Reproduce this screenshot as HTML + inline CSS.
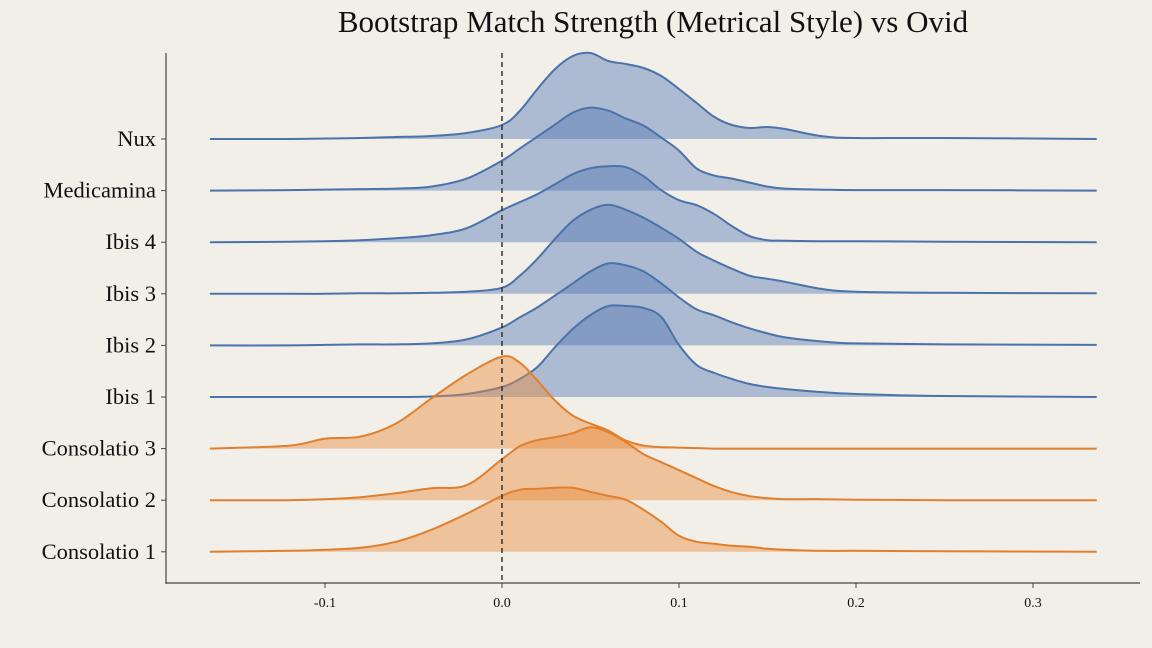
<!DOCTYPE html>
<html><head><meta charset="utf-8">
<style>
html,body{margin:0;padding:0;background:#f2efe8;}
svg{display:block;}
text{font-family:"Liberation Serif",serif;fill:#111;}
</style></head>
<body>
<svg id="chart" width="1152" height="648" viewBox="0 0 1152 648" xmlns="http://www.w3.org/2000/svg">
<rect width="1152" height="648" fill="#f2efe8"/>
<text x="653" y="32" text-anchor="middle" font-size="31">Bootstrap Match Strength (Metrical Style) vs Ovid</text>
<g id="ridges"></g>
<g id="axes"></g>
</svg>
<script>
const categories = ["Nux","Medicamina","Ibis 4","Ibis 3","Ibis 2","Ibis 1","Consolatio 3","Consolatio 2","Consolatio 1"];
const groups = ["ibis","ibis","ibis","ibis","ibis","ibis","consolatio","consolatio","consolatio"];
const gridX = [-0.165,-0.12,-0.10,-0.08,-0.06,-0.04,-0.02,0.00,0.01,0.02,0.03,0.04,0.05,0.06,0.07,0.08,0.09,0.10,0.11,0.12,0.13,0.14,0.15,0.16,0.18,0.20,0.25,0.336];
const densNux        = [0,0,0.5,1,2,3,6,14,28,50,70,83,86,78,75,71,63,50,36,22,14,11,12,10,3,1,1,0];
const densMedicamina = [0,0.5,1,1.5,2,4,12,30,42,54,66,78,83,80,72,65,53,40,22,15,12,8,4,2,1,0.5,0.5,0];
const densIbis4      = [0,0.5,1,2,4,7,14,32,40,48,58,68,74,76,75,66,52,42,37,28,16,6,2,1.5,1,1,0.5,0];
const densIbis3      = [0,0,0,0.5,0.5,1,2,6,18,35,55,73,84,89,84,76,66,55,42,33,25,18,15,12,5,2,1,0.5];
const densIbis2      = [0,0,0.5,1,1,2,6,18,28,38,50,62,74,82,80,74,62,48,36,30,23,17,12,8,4,2,1,0.5];
const densIbis1      = [0,0,0,0,0,0.5,3,10,18,30,50,68,82,91,91,89,80,52,32,24,18,13,10,8,5,3,1,0];
const densCons3      = [0,3,10,12,25,50,74,92,86,68,48,33,25,18,8,3,1.5,1,0.5,0,0,0,0,0,0,0,0,0];
const densCons2      = [0,0,1,3,7,12,15,41,54,60,63,67,73,68,58,46,38,30,22,14,8,4,2,1,1,0.5,0,0];
const densCons1      = [0,1,2,4,10,22,38,56,62,63,64,64,60,56,52,42,30,16,10,8,6,5,3,2,1,1,0.5,0];
const series = [densNux,densMedicamina,densIbis4,densIbis3,densIbis2,densIbis1,densCons3,densCons2,densCons1];
const xTicks = [-0.1,0.0,0.1,0.2,0.3];
const xTickLabels = ["-0.1","0.0","0.1","0.2","0.3"];

const NS="http://www.w3.org/2000/svg";
const xScale = v => 502 + v*1770;
const baseY = i => 139 + i*51.6;
const hScale = d => d*1.0;
const colors = {ibis:{line:"#4a72ab",fill:"rgba(76,114,176,0.42)"},consolatio:{line:"#e07f2e",fill:"rgba(232,140,60,0.45)"}};

function smoothPath(pts){
  let d="M"+pts[0][0].toFixed(1)+","+pts[0][1].toFixed(1);
  for(let i=0;i<pts.length-1;i++){
    const p0=pts[Math.max(0,i-1)],p1=pts[i],p2=pts[i+1],p3=pts[Math.min(pts.length-1,i+2)];
    const c1x=p1[0]+(p2[0]-p0[0])/6,c1y=p1[1]+(p2[1]-p0[1])/6;
    const c2x=p2[0]-(p3[0]-p1[0])/6,c2y=p2[1]-(p3[1]-p1[1])/6;
    d+=" C"+c1x.toFixed(1)+","+c1y.toFixed(1)+" "+c2x.toFixed(1)+","+c2y.toFixed(1)+" "+p2[0].toFixed(1)+","+p2[1].toFixed(1);
  }
  return d;
}
const ridges=document.getElementById('ridges');
series.forEach((vals,i)=>{
  const by=baseY(i);
  const pts=gridX.map((x,j)=>[xScale(x),by-hScale(vals[j])]);
  const line=smoothPath(pts);
  const c=colors[groups[i]];
  const slug=categories[i].toLowerCase().replace(/\s+/g,'-');
  const area=document.createElementNS(NS,'path');
  area.setAttribute('d',line+" L"+pts[pts.length-1][0].toFixed(1)+","+by+" L"+pts[0][0].toFixed(1)+","+by+" Z");
  area.setAttribute('fill',c.fill);
  
  
  ridges.appendChild(area);
  const ln=document.createElementNS(NS,'path');
  ln.setAttribute('d',line);
  ln.setAttribute('fill','none');
  ln.setAttribute('stroke',c.line);
  ln.setAttribute('stroke-width','2');
  
  
  ridges.appendChild(ln);
});
const axes=document.getElementById('axes');
function mk(tag,attrs,txt){const e=document.createElementNS(NS,tag);for(const k in attrs)e.setAttribute(k,attrs[k]);if(txt!==undefined)e.textContent=txt;axes.appendChild(e);return e;}
const zl=mk('line',{x1:xScale(0),x2:xScale(0),y1:53,y2:583,stroke:"#333","stroke-width":1.5,"stroke-dasharray":"5,4"});


const ya=mk('line',{x1:166,x2:166,y1:53,y2:584,stroke:"#444","stroke-width":1.2});


const xa=mk('line',{x1:165.5,x2:1140,y1:583,y2:583,stroke:"#444","stroke-width":1.2});


categories.forEach((c,i)=>{
  const y=baseY(i);
  const t=mk('line',{x1:161,x2:166,y1:y,y2:y,stroke:"#444","stroke-width":1});
  
  
  const l=mk('text',{x:156,y:y+7,"text-anchor":"end","font-size":22.5},c);
  
  
});
xTicks.forEach((v,i)=>{
  const x=xScale(v);
  const t=mk('line',{x1:x,x2:x,y1:583,y2:588,stroke:"#444","stroke-width":1});
  
  
  const l=mk('text',{x:x,y:607,"text-anchor":"middle","font-size":14},xTickLabels[i]);
  
  
});
</script>
</body></html>
